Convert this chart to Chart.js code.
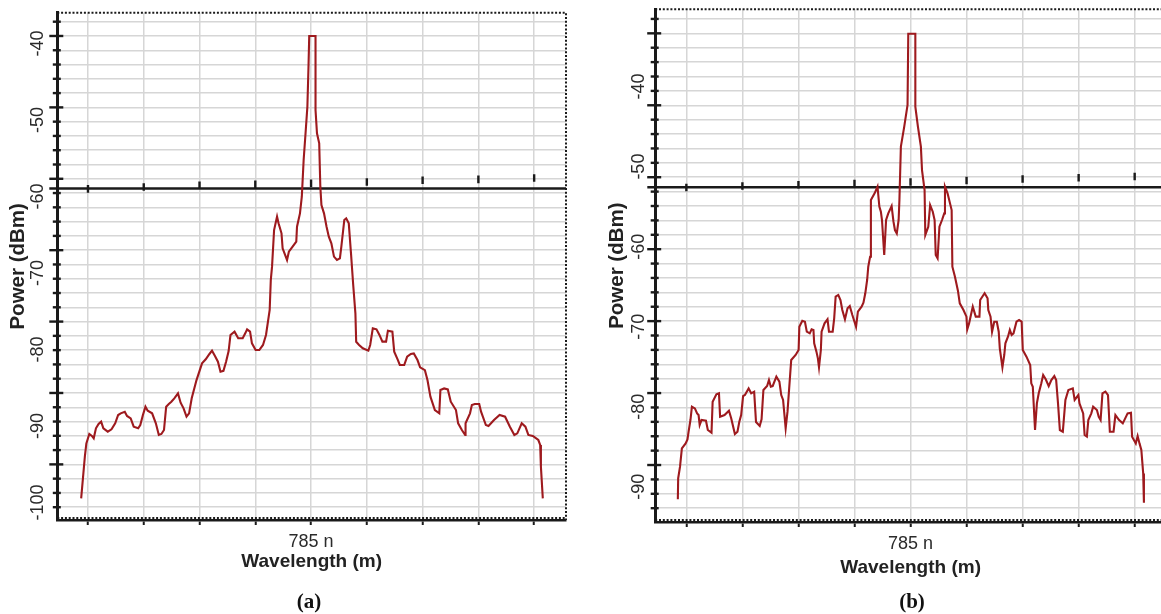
<!DOCTYPE html>
<html>
<head>
<meta charset="utf-8">
<title>Spectra</title>
<script src="https://cdn.jsdelivr.net/npm/chart.js@4.4.1/dist/chart.umd.min.js"></script>
<style>
  html, body { margin: 0; padding: 0; background: #fff; width: 1161px; height: 614px; overflow: hidden; }
  .panel { position: absolute; top: 0; height: 614px; }
  #wrapA { left: 0; width: 590px; }
  #wrapB { left: 590px; width: 590px; }
  .caption { position: absolute; top: 589px; width: 60px; line-height: 22px; text-align: center;
             font: bold 21px "Liberation Serif", "Times New Roman", serif; color: #111; }
</style>
</head>
<body>
<div class="panel" id="wrapA"><canvas id="chartA" width="590" height="614"></canvas></div>
<div class="panel" id="wrapB"><canvas id="chartB" width="590" height="614"></canvas></div>
<div class="caption" style="left:279px">(a)</div>
<div class="caption" style="left:882px">(b)</div>
<script>
// wavelength offset from 785 nm in grid divisions, power in dBm
const waveA = [-4.122, -4.056, -4.029, -3.976, -3.93, -3.897, -3.857, -3.81, -3.764, -3.724, -3.645, -3.578,
  -3.512, -3.459, -3.413, -3.34, -3.30, -3.234, -3.18, -3.10, -3.062, -3.015, -2.969, -2.929, -2.85, -2.783,
  -2.73, -2.684, -2.637, -2.598, -2.551, -2.505, -2.452, -2.386, -2.339, -2.286, -2.233, -2.187, -2.14, -2.054,
  -1.955, -1.889, -1.822, -1.776, -1.723, -1.67, -1.624, -1.571, -1.524, -1.478, -1.445, -1.372, -1.306, -1.226,
  -1.18, -1.147, -1.094, -1.06, -0.994, -0.928, -0.862, -0.808, -0.742, -0.722, -0.70, -0.663, -0.610, -0.583,
  -0.53, -0.51, -0.464, -0.431, -0.398, -0.331, -0.265, -0.252, -0.199, -0.166, -0.133, -0.099, -0.066, -0.046,
  -0.033, 0.080, 0.080, 0.106, 0.146, 0.166, 0.186, 0.232, 0.278, 0.318, 0.364, 0.411, 0.464, 0.517, 0.543,
  0.596, 0.63, 0.676, 0.716, 0.755, 0.795, 0.809, 0.861, 0.928, 1.027, 1.06, 1.107, 1.173, 1.226, 1.279, 1.345,
  1.378, 1.458, 1.491, 1.557, 1.591, 1.67, 1.723, 1.789, 1.842, 1.908, 1.955, 2.041, 2.087, 2.14, 2.22, 2.299,
  2.319, 2.386, 2.452, 2.505, 2.598, 2.637, 2.704, 2.763, 2.77, 2.85, 2.883, 2.936, 3.015, 3.048, 3.134, 3.181,
  3.28, 3.38, 3.479, 3.565, 3.645, 3.698, 3.777, 3.843, 3.896, 3.976, 4.075, 4.108, 4.121, 4.155];
const powerA = [-99.47, -94.02, -92.28, -91.05, -91.31, -91.62, -90.31, -89.75, -89.44, -90.31, -90.75, -90.44,
  -89.66, -88.57, -88.35, -88.14, -88.70, -89.01, -90.1, -90.31, -89.88, -88.57, -87.48, -88.0, -88.35, -89.66,
  -91.18, -91.05, -90.53, -87.48, -87.13, -86.83, -86.39, -85.74, -86.96, -87.70, -88.79, -88.35, -86.39, -84.0,
  -81.81, -81.29, -80.59, -80.16, -80.86, -81.6, -82.9, -82.8, -81.6, -80.2, -78.1, -77.67, -78.54, -78.54,
  -77.89, -77.37, -77.67, -79.2, -80.07, -80.07, -79.41, -78.1, -74.84, -70.9, -69.2, -64.38, -62.63, -63.5,
  -64.81, -66.77, -67.65, -68.3, -67.21, -66.56, -65.9, -63.94, -62.2, -60.02, -55.22, -51.73, -48.25, -43.0,
  -39.0, -39.0, -48.68, -51.73, -53.04, -58.71, -61.1, -62.2, -63.94, -65.25, -66.12, -67.86, -68.3, -68.08, -66.56,
  -63.07, -62.85, -63.5, -67.43, -71.5, -75.27, -79.0, -79.41, -79.85, -80.16, -79.41, -77.24, -77.37, -78.1, -78.98, -78.98,
  -77.54, -77.67, -80.29, -81.38, -82.03, -82.03, -80.94, -80.59, -80.51, -81.38, -82.34, -82.7, -84.0, -86.17, -87.92, -88.35,
  -85.3, -85.1, -85.22, -86.83, -87.92, -89.66, -90.53, -91.18, -89.66, -88.35, -87.26, -87.13, -87.13, -88.14, -89.88, -90.01,
  -89.23, -88.57, -88.79, -90.1, -91.18, -90.97, -89.66, -90.1, -91.18, -91.31, -91.84, -92.49, -95.32, -99.47];

const waveB = [-4.152, -4.146, -4.113, -4.08, -4.013, -3.98, -3.96, -3.927, -3.901, -3.848, -3.808, -3.782,
  -3.762, -3.729, -3.65, -3.617, -3.551, -3.531, -3.464, -3.418, -3.398, -3.319, -3.24, -3.2, -3.134, -3.088,
  -3.055, -3.022, -2.988, -2.955, -2.889, -2.843, -2.79, -2.757, -2.691, -2.658, -2.625, -2.559, -2.526, -2.493,
  -2.46, -2.394, -2.34, -2.307, -2.274, -2.228, -2.195, -2.129, -2.05, -1.997, -1.984, -1.931, -1.884, -1.851,
  -1.798, -1.765, -1.732, -1.719, -1.679, -1.653, -1.633, -1.6, -1.587, -1.534, -1.481, -1.455, -1.389, -1.362,
  -1.336, -1.289, -1.25, -1.217, -1.17, -1.124, -1.084, -1.038, -0.972, -0.939, -0.873, -0.84, -0.807, -0.774,
  -0.754, -0.721, -0.707, -0.641, -0.589, -0.556, -0.529, -0.509, -0.469, -0.436, -0.397, -0.337, -0.304, -0.278,
  -0.245, -0.212, -0.198, -0.172, -0.112, -0.053, -0.04, 0.086, 0.086, 0.132, 0.185, 0.205, 0.251, 0.264, 0.317,
  0.35, 0.397, 0.43, 0.45, 0.483, 0.516, 0.562, 0.602, 0.615, 0.661, 0.734, 0.747, 0.793, 0.846, 0.879, 0.945,
  0.998, 1.012, 1.045, 1.078, 1.111, 1.164, 1.23, 1.243, 1.322, 1.375, 1.388, 1.428, 1.455, 1.494, 1.54, 1.574,
  1.593, 1.64, 1.673, 1.693, 1.739, 1.772, 1.805, 1.838, 1.891, 1.937, 1.983, 2.003, 2.069, 2.136, 2.155, 2.182,
  2.222, 2.255, 2.288, 2.334, 2.367, 2.413, 2.466, 2.513, 2.566, 2.599, 2.632, 2.665, 2.718, 2.764, 2.817, 2.896,
  2.929, 2.995, 3.015, 3.081, 3.107, 3.147, 3.173, 3.226, 3.259, 3.326, 3.359, 3.392, 3.425, 3.478, 3.524, 3.557,
  3.623, 3.656, 3.722, 3.788, 3.874, 3.934, 3.954, 4.02, 4.053, 4.086, 4.119, 4.152, 4.165];
const powerB = [-91.56, -88.94, -87.48, -85.19, -84.57, -84.07, -83.11, -81.65, -79.99, -80.2, -80.82, -81.03,
  -82.27, -81.65, -81.74, -82.9, -83.23, -79.36, -78.45, -78.32, -81.24, -81.03, -80.49, -81.44, -83.4, -83.11,
  -81.86, -81.03, -78.66, -78.53, -77.7, -78.32, -78.11, -81.9, -82.4, -81.57, -77.9, -77.41, -76.66, -77.49,
  -77.41, -76.24, -76.86, -78.53, -79.15, -82.69, -80.61, -74.16, -73.53, -72.91, -70.0, -69.25, -69.37, -70.62,
  -70.83, -70.33, -70.41, -72.07, -73.11, -73.95, -75.07, -72.91, -70.62, -69.58, -69.08, -70.62, -70.62, -68.95,
  -66.24, -66.03, -66.66, -67.91, -69.08, -67.7, -67.41, -68.54, -70.0, -68.12, -67.49, -66.99, -65.82, -64.16,
  -62.5, -61.25, -54.17, -53.34, -52.51, -55.0, -55.63, -56.67, -61.04, -56.67, -55.84, -54.92, -56.88, -57.92,
  -58.34, -56.67, -54.17, -47.51, -45.01, -42.3, -33.4, -33.4, -42.51, -45.01, -47.51, -50.43, -52.93, -58.55, -57.51,
  -54.8, -55.63, -56.67, -61.04, -61.46, -57.51, -56.67, -55.84, -52.51, -53.34, -55.42, -62.5, -63.75, -65.5, -67.08, -67.91,
  -68.74, -70.33, -69.58, -68.54, -67.49, -68.74, -68.74, -66.66, -65.82, -66.45, -67.91, -68.74, -70.62, -69.37, -69.37, -70.62,
  -72.7, -75.07, -73.53, -72.07, -71.24, -70.41, -71.03, -70.83, -69.37, -69.16, -69.37, -72.91, -73.74, -74.78, -77.07, -77.49,
  -82.9, -79.57, -78.32, -77.07, -76.03, -76.57, -77.41, -76.66, -76.16, -76.66, -79.57, -82.9, -83.11, -79.15, -77.91, -77.7,
  -79.15, -78.53, -79.57, -80.82, -83.53, -83.73, -81.65, -80.82, -79.99, -80.41, -81.24, -81.65, -78.32, -78.11, -78.53, -83.11,
  -83.11, -81.03, -81.65, -82.07, -80.82, -80.74, -83.73, -84.57, -83.65, -84.57, -85.4, -88.32, -91.98];

// x tick positions (grid divisions) and the tilted row of short marks above the black reference line
const xTickValues = [-4, -3, -2, -1, 0, 1, 2, 3, 4];
const markWave = [-4, -3, -2, -1, 0, 1, 2, 3, 4];
const markPowerA = [-59.0, -58.75, -58.53, -58.40, -58.26, -58.10, -57.88, -57.75, -57.58];
const markPowerB = [-52.61, -52.42, -52.26, -52.13, -51.92, -51.74, -51.55, -51.40, -51.24];
const refLineWave = [-4.7, 4.6];
const refLineA = [-58.95, -58.95];
const refLineB = [-52.58, -52.58];
const centerLabel = '785 n';

Chart.defaults.font.family = '"Liberation Sans", Arial, sans-serif';

const stepTicks = step => s => {
  const t = [];
  for (let v = Math.ceil(s.min / step) * step; v <= s.max; v += step) t.push({ value: v });
  s.ticks = t;
};

// y-axis tick crosses, rotated value labels and the dotted frame
const decor = {
  id: 'decor',
  afterDraw(chart, args, o) {
    const { ctx, chartArea: a } = chart;
    const g = chart.scales.g, y = chart.scales.y;
    ctx.save();
    ctx.strokeStyle = '#1a1a1a';
    ctx.lineWidth = 2.4;
    g.ticks.forEach(t => {
      const py = g.getPixelForValue(t.value);
      const major = Math.round(t.value) % 10 === 0;
      ctx.beginPath();
      ctx.moveTo(a.left - (major ? 8 : 4.5), py);
      ctx.lineTo(a.left + (major ? 6 : 3.5), py);
      ctx.stroke();
    });
    // dotted frame: top, right, and the dotted texture on the bottom axis
    ctx.lineWidth = 2;
    ctx.setLineDash([2, 1.8]);
    ctx.beginPath();
    ctx.moveTo(a.left, a.top);
    ctx.lineTo(a.right, a.top);
    ctx.lineTo(a.right, a.bottom);
    ctx.moveTo(a.left, a.bottom - 2);
    ctx.lineTo(a.right, a.bottom - 2);
    ctx.stroke();
    ctx.setLineDash([]);
    ctx.fillStyle = '#2b2b2b';
    ctx.font = '18px "Liberation Sans", Arial, sans-serif';
    ctx.textAlign = 'center';
    ctx.textBaseline = 'middle';
    y.ticks.forEach(t => {
      ctx.save();
      ctx.translate(a.left - o.labelGap, y.getPixelForValue(t.value));
      ctx.rotate(-Math.PI / 2);
      ctx.fillText(String(t.value), 0, 0);
      ctx.restore();
    });
    ctx.restore();
  }
};

function makeChart(p) {
  const cw = 590, ch = 614;
  return new Chart(document.getElementById(p.canvas), {
    type: 'line',
    data: {
      datasets: [
        { data: p.wave.map((x, i) => ({ x: x, y: p.power[i] })), borderColor: '#9e1a1e', borderWidth: 2.1,
          pointRadius: 0, tension: 0, order: 0 },
        { data: refLineWave.map((x, i) => ({ x: x, y: p.ref[i] })), borderColor: '#1a1a1a', borderWidth: 2.4,
          pointRadius: 0, clip: { left: 8, top: 0, right: 0, bottom: 0 }, order: 1 },
        { data: markWave.map((x, i) => ({ x: x, y: p.marks[i] })), showLine: false, pointStyle: 'line',
          rotation: 90, pointRadius: 3.8, pointBorderWidth: 2.4, pointBorderColor: '#1a1a1a', order: 2 }
      ]
    },
    options: {
      responsive: false,
      animation: false,
      events: [],
      layout: { padding: { top: p.top, right: cw - p.right, left: 0, bottom: 0 } },
      plugins: { legend: { display: false }, tooltip: { enabled: false }, decor: { labelGap: p.labelGap } },
      scales: {
        x: {
          type: 'linear', position: 'bottom', min: p.xMin, max: p.xMax,
          afterFit: s => { s.height = ch - p.bottom; },
          afterBuildTicks: s => { s.ticks = xTickValues.map(v => ({ value: v })); },
          grid: { color: '#d6d6d6', lineWidth: 1.5, tickLength: 5, tickWidth: 2, tickColor: '#1a1a1a' },
          border: { display: true, color: '#1a1a1a', width: 2.5 },
          ticks: {
            autoSkip: false, maxRotation: 0, padding: 6, color: '#2b2b2b', font: { size: 18 },
            callback: v => (v === 0 ? centerLabel : '')
          },
          title: { display: true, text: 'Wavelength (m)', color: '#222', font: { size: 19, weight: 'bold' },
                   padding: { top: 0, bottom: p.xTitlePad } }
        },
        y: {
          type: 'linear', position: 'left', min: p.yMin, max: p.yMax, weight: 1,
          afterFit: s => { s.width = p.left; },
          afterBuildTicks: stepTicks(10),
          grid: { display: false, drawTicks: false },
          border: { display: true, color: '#1a1a1a', width: 3 },
          ticks: { display: false },
          title: { display: true, text: 'Power (dBm)', color: '#222', font: { size: 20.5, weight: 'bold' },
                   padding: { top: p.yTitlePad, bottom: 0 } }
        },
        g: {
          type: 'linear', position: 'left', min: p.gMin, max: p.gMax, weight: 0,
          afterFit: s => { s.width = 0; },
          afterBuildTicks: stepTicks(2),
          grid: { color: '#d6d6d6', lineWidth: 1.5, drawTicks: false },
          border: { display: false },
          ticks: { display: false }
        }
      }
    },
    plugins: [decor]
  });
}

makeChart({ canvas: 'chartA', wave: waveA, power: powerA, ref: refLineA, marks: markPowerA,
  left: 57.3, top: 12.7, right: 566, bottom: 520,
  xMin: -4.55, xMax: 4.571, yMin: -102.30, yMax: -35.96, gMin: -107.79, gMax: -36.74,
  labelGap: 19, yTitlePad: 6, xTitlePad: 41 });

makeChart({ canvas: 'chartB', wave: waveB, power: powerB, ref: refLineB, marks: markPowerB,
  left: 65.2, top: 9.3, right: 576, bottom: 522,
  xMin: -4.556, xMax: 4.559, yMin: -94.39, yMax: -30.35, gMin: -97.92, gMax: -26.66,
  labelGap: 16, yTitlePad: 15, xTitlePad: 35 });
</script>
</body>
</html>
